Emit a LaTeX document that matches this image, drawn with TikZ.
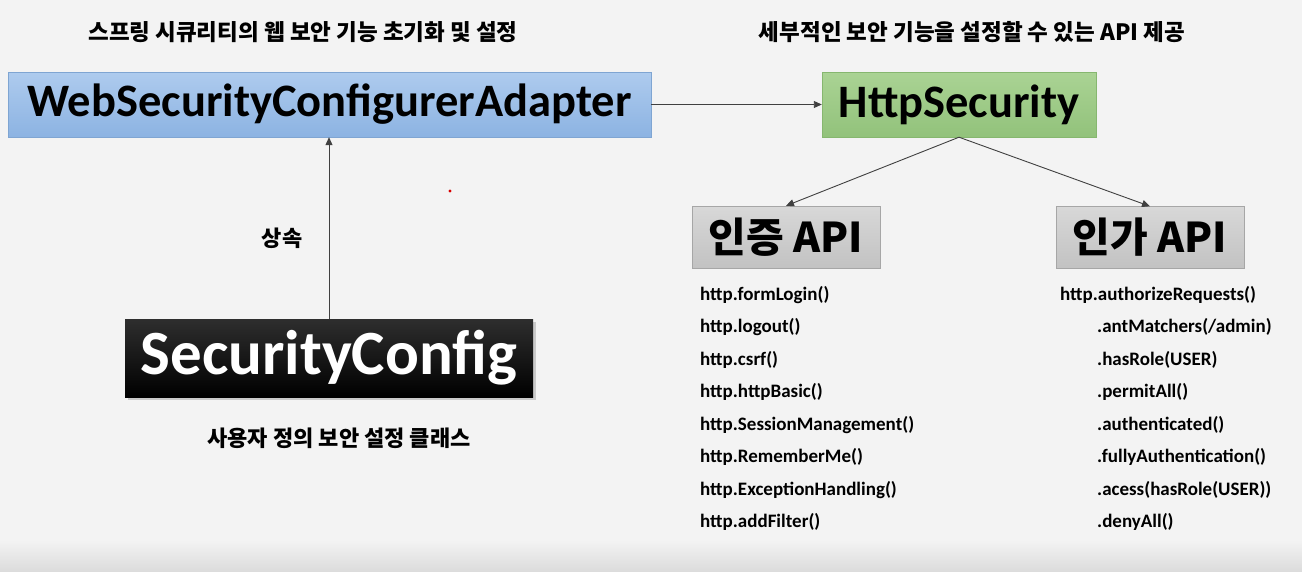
\documentclass[tikz,border=0pt]{standalone}
\usepackage{fontspec}
\setmainfont{Carlito}
\newfontfamily\kr{Noto Sans CJK KR}
\usetikzlibrary{arrows.meta,shadows}
\definecolor{bgc}{HTML}{F3F3F3}
\definecolor{bgbot}{HTML}{DCDCDC}
\definecolor{bluetop}{HTML}{AECBEE}
\definecolor{bluebot}{HTML}{8CB3E2}
\definecolor{blueline}{HTML}{7FA5D2}
\definecolor{greentop}{HTML}{AAD394}
\definecolor{greenbot}{HTML}{92C27B}
\definecolor{greenline}{HTML}{86B76F}
\definecolor{graytop}{HTML}{D8D8D8}
\definecolor{graybot}{HTML}{C2C2C2}
\definecolor{grayline}{HTML}{A6A6A6}
\definecolor{arrowc}{HTML}{404040}
\begin{document}
\begin{tikzpicture}[x=1pt,y=-1pt,
  bigbox/.style={inner sep=0pt, font=\fontsize{46.5}{50}\selectfont\bfseries, text=black},
  apibox/.style={inner sep=0pt, minimum width=188pt, minimum height=62pt, draw=grayline, top color=graytop, bottom color=graybot, font=\kr\fontsize{41}{45}\selectfont\bfseries},
  label/.style={inner sep=0pt, font=\kr\fontsize{22}{26}\selectfont\bfseries},
  toplabel/.style={inner sep=0pt, font=\kr\fontsize{22.5}{26}\selectfont\bfseries},
  item/.style={inner sep=0pt, anchor=base west, font=\fontsize{19}{22}\selectfont\bfseries},
  conn/.style={draw=arrowc, line width=0.9pt, -{Triangle[length=8pt,width=7pt]}}
]
\useasboundingbox (0,0) rectangle (1302,571);
\fill[bgc] (0,0) rectangle (1302,540);
\shade[top color=bgc, bottom color=bgbot] (0,540) rectangle (1302,571);

% top labels
\node[toplabel] (t1) at (303,32) {스프링 시큐리티의 웹 보안 기능 초기화 및 설정};
\node[toplabel] (t2) at (972,32) {세부적인 보안 기능을 설정할 수 있는 API 제공};

% main boxes
\node[bigbox, minimum width=643pt, minimum height=65pt, draw=blueline, top color=bluetop, bottom color=bluebot] (wsca) at (329.5,104.5) {WebSecurityConfigurerAdapter};
\node[bigbox, minimum width=274pt, minimum height=65pt, draw=greenline, top color=greentop, bottom color=greenbot] (hs) at (959,104.5) {HttpSecurity};

\node[inner sep=0pt, minimum width=408pt, minimum height=78pt, top color=black!82, bottom color=black, text=white,
  drop shadow={shadow xshift=3pt, shadow yshift=-3pt, opacity=0.35},
  font=\fontsize{63}{66}\selectfont\bfseries] (sc) at (329,358) {SecurityConfig};

\node[label] (inh) at (282,238) {상속};
\node[label] (sclab) at (339,438) {사용자 정의 보안 설정 클래스};

\node[apibox] (authn) at (786,237) {인증 API};
\node[apibox] (authz) at (1150,237.5) {인가 API};

% connectors
\draw[conn] (wsca.east) -- (hs.west);
\draw[conn] (sc.north) -- (wsca.south -| sc.north);
\draw[conn] (hs.south) -- (authn.north);
\draw[conn] (hs.south) -- (authz.north);

% left list
\node[item] (l1) at (700,300) {http.formLogin()};
\node[item] (l2) at (700,332.5) {http.logout()};
\node[item] (l3) at (700,365) {http.csrf()};
\node[item] (l4) at (700,397.5) {http.httpBasic()};
\node[item] (l5) at (700,430) {http.SessionManagement()};
\node[item] (l6) at (700,462.5) {http.RememberMe()};
\node[item] (l7) at (700,495) {http.ExceptionHandling()};
\node[item] (l8) at (700,527.5) {http.addFilter()};

% right list
\node[item] (r1) at (1060,300) {http.authorizeRequests()};
\node[item] (r2) at (1097,332.5) {.antMatchers(/admin)};
\node[item] (r3) at (1097,365) {.hasRole(USER)};
\node[item] (r4) at (1097,397.5) {.permitAll()};
\node[item] (r5) at (1097,430) {.authenticated()};
\node[item] (r6) at (1097,462.5) {.fullyAuthentication()};
\node[item] (r7) at (1097,495) {.acess(hasRole(USER))};
\node[item] (r8) at (1097,527.5) {.denyAll()};

% small red mark
\fill[red!85!black] (450,191) circle (1.6);
\end{tikzpicture}
\end{document}
